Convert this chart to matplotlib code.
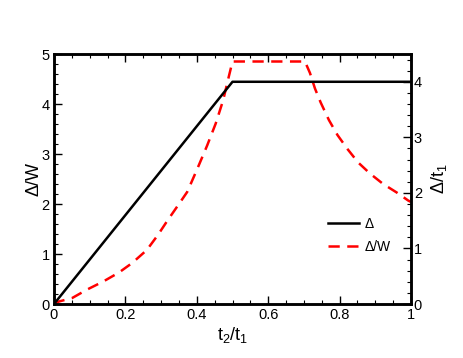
import matplotlib
matplotlib.use("Agg")
import matplotlib.pyplot as plt
from matplotlib.ticker import MultipleLocator, FixedLocator, FixedFormatter

plt.rcParams['font.family'] = ['Liberation Sans', 'DejaVu Sans']
plt.rcParams['mathtext.default'] = 'regular'

# Data
delta_x = [0.0, 0.5, 1.0]
delta_y = [0.0, 4.0, 4.0]  # right axis (Δ/t1)

ratio_x = [0.0, 0.014, 0.051, 0.093, 0.138, 0.182, 0.219, 0.260, 0.291, 0.317,
           0.350, 0.373, 0.400, 0.429, 0.453, 0.474, 0.488, 0.500, 0.703, 0.717,
           0.731, 0.747, 0.770, 0.794, 0.822, 0.852, 0.885, 0.922, 0.960, 0.992, 1.0]
ratio_y = [0.0, 0.05, 0.12, 0.29, 0.45, 0.63, 0.82, 1.08, 1.38, 1.66,
           2.00, 2.24, 2.68, 3.17, 3.61, 4.08, 4.50, 4.85, 4.85, 4.62,
           4.31, 4.03, 3.68, 3.38, 3.10, 2.83, 2.61, 2.40, 2.23, 2.07, 2.04]  # left axis (Δ/W)

x_ticks = [0, 0.2, 0.4, 0.6, 0.8, 1.0]
x_labels = ['0', '0.2', '0.4', '0.6', '0.8', '1']

fig = plt.figure(figsize=(4.63, 3.58), dpi=100)
ax = fig.add_axes([54/463, 1-304/358, (411-54)/463, (304-54)/358])
ax2 = ax.twinx()

l2, = ax.plot(ratio_x, ratio_y, color='#ff0000', lw=1.8, ls=(0, (4.5, 3)), label='Δ/W')
l1, = ax2.plot(delta_x, delta_y, color='black', lw=1.8, label='Δ')

ax.set_xlim(0, 1)
ax.set_ylim(0, 5)
ax2.set_ylim(0, 4.5)

ax.xaxis.set_major_locator(FixedLocator(x_ticks))
ax.xaxis.set_major_formatter(FixedFormatter(x_labels))
ax.xaxis.set_minor_locator(MultipleLocator(0.05))
ax.yaxis.set_major_locator(MultipleLocator(1))
ax.yaxis.set_minor_locator(MultipleLocator(0.2))
ax2.yaxis.set_major_locator(MultipleLocator(1))
ax2.yaxis.set_minor_locator(MultipleLocator(0.2))

ax.tick_params(axis='both', which='major', direction='in', length=6, width=1, labelsize=10.5, pad=3)
ax.tick_params(axis='both', which='minor', direction='in', length=3, width=0.8)
ax.tick_params(axis='x', which='both', top=True)
ax.tick_params(axis='y', which='both', right=False)
ax2.tick_params(axis='y', which='major', direction='in', length=6, width=1, labelsize=10.5, pad=2)
ax2.tick_params(axis='y', which='minor', direction='in', length=3, width=0.8)

for a in (ax, ax2):
    for s in a.spines.values():
        s.set_linewidth(1.8)

ax.set_xlabel('t$_2$/t$_1$', fontsize=13, labelpad=2)
ax.set_ylabel('Δ/W', fontsize=13, labelpad=-0.5)
ax2.set_ylabel('Δ/t$_1$', fontsize=13, labelpad=5)

leg = fig.legend(handles=[l1, l2], loc='upper left', bbox_to_anchor=(315/463, 1-204/358),
                 frameon=False, fontsize=10, handlelength=2.3, handletextpad=0.35,
                 labelspacing=0.7)

fig.savefig('out.png', dpi=100)
